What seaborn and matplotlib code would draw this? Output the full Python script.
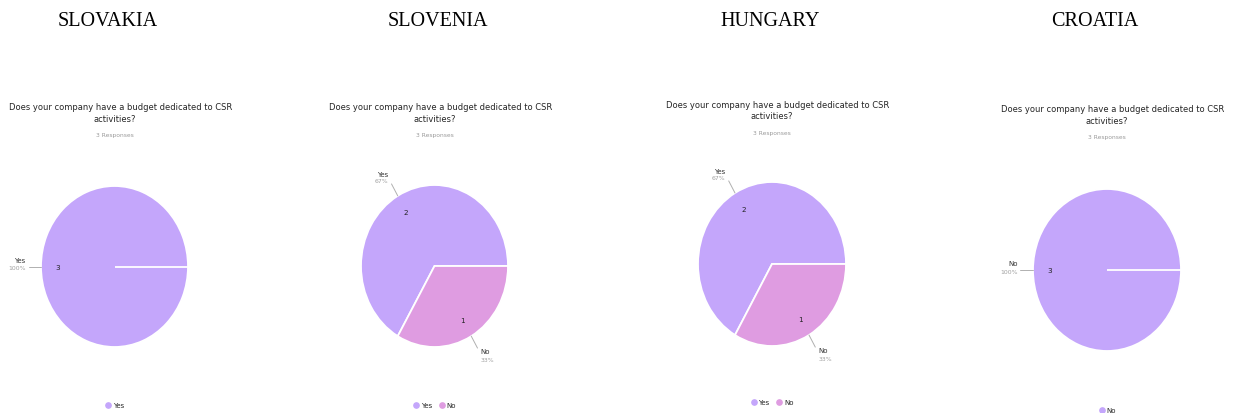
import numpy as np
import matplotlib
matplotlib.use("Agg")
import matplotlib.pyplot as plt
import seaborn as sns
from matplotlib.lines import Line2D

# ---- data -------------------------------------------------------------
countries = ["SLOVAKIA", "SLOVENIA", "HUNGARY", "CROATIA"]
question_lines = ["Does your company have a budget dedicated to CSR", "activities?"]
responses_text = "3 Responses"
answers = [["Yes"], ["Yes", "No"], ["Yes", "No"], ["No"]]
counts = [[3], [2, 1], [2, 1], [3]]

# ---- style ------------------------------------------------------------
sns.set_theme(style="white")
plt.rcParams["font.family"] = ["DejaVu Sans"]
palette = sns.color_palette(["#C4A6FB", "#DF9CE1"])

W, H, DPI = 1233, 414, 100
fig = plt.figure(figsize=(W / DPI, H / DPI), dpi=DPI, facecolor="white")

# pie geometry per panel in pixels: centre x, centre y, radius x, radius y
pies = [(114.5, 267.5, 73.5, 80.5),
        (434.5, 267.0, 73.5, 81.0),
        (772.0, 265.0, 74.0, 82.0),
        (1107.0, 271.0, 74.0, 81.0)]
title_x = [108, 438, 770, 1095]
question_y = [108, 108, 105, 110]
legend_y = [406, 406, 403, 411]


def fx(x):
    return x / W


def fy(y):
    return 1 - y / H


for i, country in enumerate(countries):
    cx, cy, rx, ry = pies[i]

    fig.text(fx(title_x[i]), fy(22), country, ha="center", va="center",
             fontsize=14.5, family="Liberation Serif", color="black")

    qy = question_y[i]
    fig.text(fx(cx + 6), fy(qy), question_lines[0], ha="center", va="center",
             fontsize=6.0, color="#262626")
    fig.text(fx(cx), fy(qy + 12), question_lines[1], ha="center", va="center",
             fontsize=6.0, color="#262626")
    fig.text(fx(cx), fy(qy + 28), responses_text, ha="center", va="center",
             fontsize=4.3, color="#9a9a9a")

    ax = fig.add_axes([fx(cx - rx), fy(cy + ry), 2 * rx / W, 2 * ry / H])
    vals = counts[i]
    cols = palette[:len(vals)]
    wedges, _ = ax.pie(vals, colors=cols, startangle=0, counterclock=True,
                       radius=1, wedgeprops=dict(edgecolor="white", linewidth=1.3))
    ax.set_aspect("auto")
    ax.set_xlim(-1, 1)
    ax.set_ylim(-1, 1)
    ax.axis("off")

    if len(vals) == 1:
        # seam where the single wedge starts and ends
        ax.plot([0, 1], [0, 0], color="white", lw=1.3, solid_capstyle="butt")

    total = sum(vals)
    for w, lab, v in zip(wedges, answers[i], vals):
        theta = np.deg2rad((w.theta1 + w.theta2) / 2)
        c, s = np.cos(theta), np.sin(theta)
        ax.text(0.77 * c, 0.77 * s, str(v), ha="center", va="center",
                fontsize=5.2, color="#222222")
        ex, ey = 1.17 * c, 1.17 * s
        ax.plot([c, ex], [s, ey], color="#b0b0b0", lw=0.7, clip_on=False)
        left = c < 0
        ha = "right" if left else "left"
        dx = -3 if left else 3
        if s > 0.3:
            dn, dp = 10, 3
        elif s < -0.3:
            dn, dp = -3, -11
        else:
            dn, dp = 7, -1
        pct = f"{round(100 * v / total)}%"
        ax.annotate(lab, (ex, ey), xytext=(dx, dn), textcoords="offset pixels",
                    ha=ha, va="center", fontsize=5.0, color="#333333",
                    annotation_clip=False)
        ax.annotate(pct, (ex, ey), xytext=(dx, dp), textcoords="offset pixels",
                    ha=ha, va="center", fontsize=4.4, color="#a0a0a0",
                    annotation_clip=False)

    handles = [Line2D([], [], marker="o", ls="", color=col, markersize=3.8)
               for col in cols]
    ax.legend(handles, answers[i], loc="center",
              bbox_to_anchor=(fx(cx), fy(legend_y[i])), bbox_transform=fig.transFigure,
              ncol=len(vals), frameon=False, fontsize=5.0, handletextpad=0.2,
              columnspacing=0.9, borderpad=0, handlelength=1.0)

fig.savefig("out.png", dpi=DPI, facecolor="white")
